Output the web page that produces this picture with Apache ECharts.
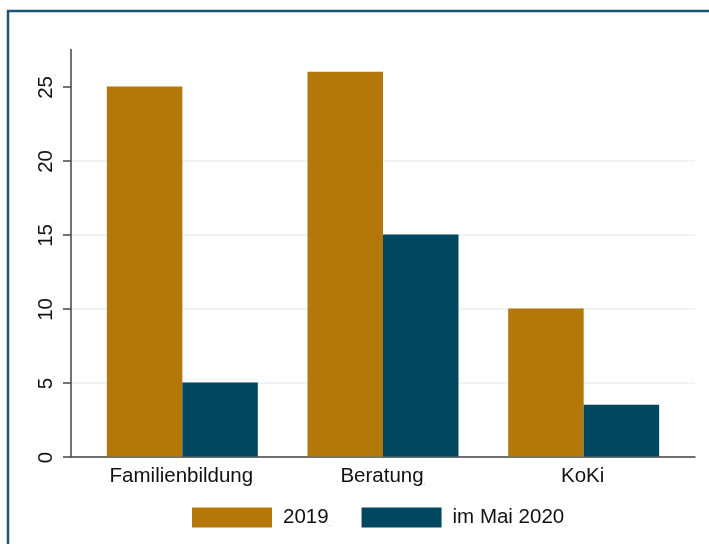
<!DOCTYPE html>
<html>
<head>
<meta charset="utf-8">
<script src="https://cdn.jsdelivr.net/npm/echarts@6/dist/echarts.min.js"></script>
<style>
  html, body { margin: 0; padding: 0; background: #fff; }
  #main { width: 709px; height: 544px; }
</style>
</head>
<body>
<div id="main"></div>
<script>
// data
var categories = ['Familienbildung', 'Beratung', 'KoKi'];
var seriesNames = ['2019', 'im Mai 2020'];
var values2019 = [25, 26, 10];
var valuesMai2020 = [5, 15, 3.5];
var yTicks = [0, 5, 10, 15, 20, 25];

var gold = '#b4770a';
var navy = '#01475f';
var font = 'Liberation Sans, Arial, sans-serif';

var chartDom = document.getElementById('main');
var myChart = echarts.init(chartDom);

// small trailing dot that sits after every label
var rich = {
  a: { fontSize: 20.5, color: '#111', fontFamily: font },
  d: { fontSize: 7, color: '#8a8a8a', fontFamily: font, verticalAlign: 'bottom' }
};
function dotted(s) { return '{a|' + s + '}{d|.}'; }

var option = {
  backgroundColor: '#fff',
  animation: false,
  graphic: [{
    type: 'rect',
    shape: { x: 8, y: 11, width: 730, height: 560 },
    style: { fill: 'none', stroke: '#1d5578', lineWidth: 2.5 },
    silent: true
  }],
  legend: {
    data: seriesNames,
    left: 187,
    top: 502,
    itemWidth: 80,
    itemHeight: 20,
    itemGap: 31,
    icon: 'rect',
    formatter: function (name) { return dotted(name); },
    textStyle: { rich: rich, padding: [0, 0, 0, 6] }
  },
  grid: [
    { left: 71, right: 14, top: 49.5, bottom: 87.5 },
    { left: 82, right: 25, top: 49.5, bottom: 87.5 }
  ],
  xAxis: [
    {
      gridIndex: 0, type: 'value', min: 0, max: 1,
      axisLine: { show: true, lineStyle: { color: '#444', width: 1.5 } },
      axisTick: { show: false }, axisLabel: { show: false }, splitLine: { show: false }
    },
    {
      gridIndex: 1, type: 'category', data: categories,
      axisLine: { show: false }, axisTick: { show: false },
      axisLabel: {
        margin: 9,
        formatter: function (v) { return dotted(v); },
        rich: rich
      }
    }
  ],
  yAxis: [
    {
      gridIndex: 0, type: 'value', min: 0, max: 27.5, interval: 5,
      axisLine: { show: true, lineStyle: { color: '#444', width: 1.5 } },
      axisTick: { show: true, length: 8, customValues: yTicks, lineStyle: { color: '#444', width: 1.5 } },
      axisLabel: {
        rotate: 90, margin: 14, customValues: yTicks,
        formatter: function (v) { return dotted(v); },
        rich: rich
      },
      splitLine: { show: true, showMaxLine: false, lineStyle: { color: '#e9f0f3', width: 1.5 } }
    },
    {
      gridIndex: 1, type: 'value', min: 0, max: 27.5, show: false
    }
  ],
  series: [
    {
      name: seriesNames[0], type: 'bar', xAxisIndex: 1, yAxisIndex: 1,
      data: values2019, barWidth: 75.5, barGap: '0%',
      itemStyle: { color: gold }
    },
    {
      name: seriesNames[1], type: 'bar', xAxisIndex: 1, yAxisIndex: 1,
      data: valuesMai2020, barWidth: 75.5, barGap: '0%',
      itemStyle: { color: navy }
    }
  ]
};

option && myChart.setOption(option);
</script>
</body>
</html>
